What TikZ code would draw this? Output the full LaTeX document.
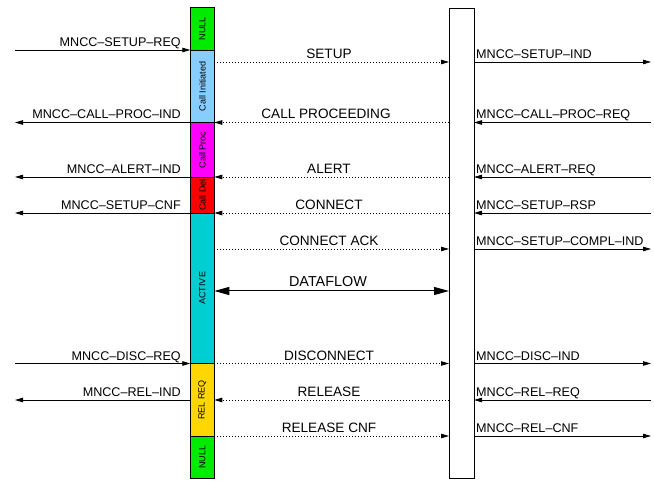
\documentclass[tikz,border=0pt]{standalone}
\usepackage{fontspec}
\setmainfont{Liberation Sans}
\usetikzlibrary{arrows.meta}
\definecolor{cnull}{RGB}{0,235,0}
\definecolor{cinit}{RGB}{135,206,255}
\definecolor{cproc}{RGB}{255,0,255}
\definecolor{cdel}{RGB}{255,0,0}
\definecolor{cact}{RGB}{0,206,209}
\definecolor{crel}{RGB}{255,215,0}
\tikzset{
  seg/.style={draw, line width=0.9pt, rotate=90, minimum height=24pt, inner sep=0pt,
    font=\fontsize{9}{9}\selectfont},
  entity/.style={draw, line width=0.9pt, fill=white, minimum width=25pt, minimum height=470pt, inner sep=0pt},
  prim/.style={line width=0.8pt, -{Triangle[length=8pt,width=4.5pt]}},
  msg/.style={line width=0.8pt, dash pattern=on 1pt off 2pt, -{Triangle[length=8pt,width=4.5pt]}},
  flow/.style={line width=1pt, {Triangle[length=15pt,width=8pt]}-{Triangle[length=15pt,width=8pt]}},
  llab/.style={anchor=base east, inner sep=0pt, font=\fontsize{12.6}{12.6}\selectfont},
  rlab/.style={anchor=base west, inner sep=0pt, font=\fontsize{12.6}{12.6}\selectfont},
  mlab/.style={anchor=base, inner sep=0pt, font=\fontsize{13.6}{13.6}\selectfont},
}
\begin{document}
\begin{tikzpicture}[x=1pt,y=-1pt]
\useasboundingbox (0,0) rectangle (654,481);
% left entity bar (segments)
\node[seg, fill=cnull, minimum width=42.5pt] (s1) at (202.3,28.75) {NULL};
\node[seg, fill=cinit, minimum width=72.5pt] (s2) at (202.3,86.25) {Call Initiated};
\node[seg, fill=cproc, minimum width=54.5pt] (s3) at (202.3,149.75) {Call Proc};
\node[seg, fill=cdel, minimum width=36pt] (s4) at (202.3,195) {Call Del};
\node[seg, fill=cact, minimum width=150.5pt] (s5) at (202.3,288.25) {ACTIVE};
\node[seg, fill=crel, minimum width=72.5pt] (s6) at (202.3,399.75) {REL REQ};
\node[seg, fill=cnull, minimum width=42.5pt] (s7) at (202.3,457.25) {NULL};
% right entity bar
\node[entity] (rb) at (461.5,243) {};
% endpoint coordinates
\foreach \n/\y in {a/50,b/62,c/122.5,d/177,e/213,f/249,g/291,h/363.5,i/400,j/436}{
  \coordinate (LO\n) at (15,\y);
  \coordinate (LB\n) at (190.3,\y);
  \coordinate (LR\n) at (214.3,\y);
  \coordinate (RL\n) at (449,\y);
  \coordinate (RR\n) at (474,\y);
  \coordinate (RO\n) at (651,\y);
}
% SETUP
\draw[prim] (LOa) -- (LBa);
\node[llab] (t1) at (181,46.5) {MNCC--SETUP--REQ};
\draw[msg] (LRb) -- (RLb);
\node[mlab] (t2) at (329,59) {SETUP};
\draw[prim] (RRb) -- (ROb);
\node[rlab] (t3) at (476,58.5) {MNCC--SETUP--IND};
% CALL PROCEEDING
\draw[prim] (LBc) -- (LOc);
\node[llab] (t4) at (181,119) {MNCC--CALL--PROC--IND};
\draw[msg] (RLc) -- (LRc);
\node[mlab] (t5) at (326,119) {CALL PROCEEDING};
\draw[prim] (ROc) -- (RRc);
\node[rlab] (t6) at (476,119) {MNCC--CALL--PROC--REQ};
% ALERT
\draw[prim] (LBd) -- (LOd);
\node[llab] (t7) at (181,173.5) {MNCC--ALERT--IND};
\draw[msg] (RLd) -- (LRd);
\node[mlab] (t8) at (329,173.5) {ALERT};
\draw[prim] (ROd) -- (RRd);
\node[rlab] (t9) at (476,173.5) {MNCC--ALERT--REQ};
% CONNECT
\draw[prim] (LBe) -- (LOe);
\node[llab] (t10) at (181,209.5) {MNCC--SETUP--CNF};
\draw[msg] (RLe) -- (LRe);
\node[mlab] (t11) at (329,209.5) {CONNECT};
\draw[prim] (ROe) -- (RRe);
\node[rlab] (t12) at (476,209.5) {MNCC--SETUP--RSP};
% CONNECT ACK
\draw[msg] (LRf) -- (RLf);
\node[mlab] (t13) at (329,245.5) {CONNECT ACK};
\draw[prim] (RRf) -- (ROf);
\node[rlab] (t14) at (476,245.5) {MNCC--SETUP--COMPL--IND};
% DATAFLOW
\draw[flow] (LRg) -- (RLg);
\node[mlab, font=\fontsize{14.4}{14.4}\selectfont] (t15) at (328,287) {DATAFLOW};
% DISCONNECT
\draw[prim] (LOh) -- (LBh);
\node[llab] (t16) at (181,360) {MNCC--DISC--REQ};
\draw[msg] (LRh) -- (RLh);
\node[mlab] (t17) at (329,360) {DISCONNECT};
\draw[prim] (RRh) -- (ROh);
\node[rlab] (t18) at (476,360) {MNCC--DISC--IND};
% RELEASE
\draw[prim] (LBi) -- (LOi);
\node[llab] (t19) at (181,396.5) {MNCC--REL--IND};
\draw[msg] (RLi) -- (LRi);
\node[mlab] (t20) at (329,396.5) {RELEASE};
\draw[prim] (ROi) -- (RRi);
\node[rlab] (t21) at (476,396.5) {MNCC--REL--REQ};
% RELEASE CNF
\draw[msg] (LRj) -- (RLj);
\node[mlab] (t22) at (329,432.5) {RELEASE CNF};
\draw[prim] (RRj) -- (ROj);
\node[rlab] (t23) at (476,432.5) {MNCC--REL--CNF};
\end{tikzpicture}
\end{document}
